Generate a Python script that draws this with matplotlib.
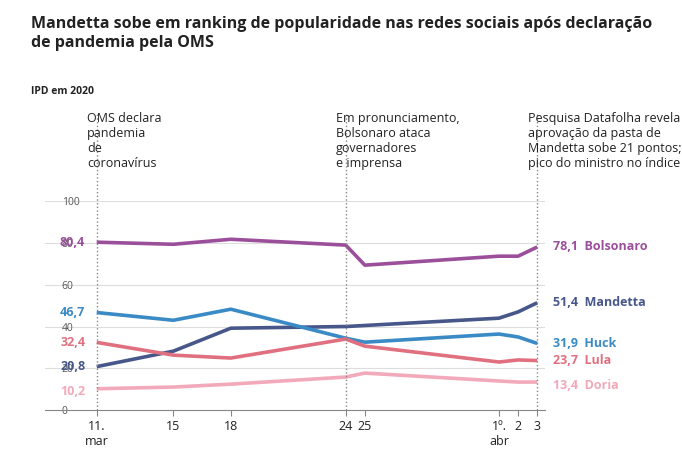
import matplotlib
matplotlib.use("Agg")
import matplotlib.pyplot as plt

plt.rcParams['font.family'] = ['Open Sans', 'DejaVu Sans']

days = [0, 4, 7, 13, 14, 21, 22, 23]
tick_labels = ["11.\nmar", "15", "18", "24", "25", "1º.\nabr", "2", "3"]
names = ["Bolsonaro", "Mandetta", "Huck", "Lula", "Doria"]
bolsonaro = [80.4, 79.4, 81.8, 79.0, 69.4, 73.7, 73.7, 78.1]
mandetta = [20.8, 28.2, 39.2, 40.0, 40.5, 44.0, 47.0, 51.4]
huck = [46.7, 43.0, 48.3, 34.4, 32.5, 36.4, 35.0, 31.9]
lula = [32.4, 26.3, 24.9, 34.0, 30.6, 23.0, 24.0, 23.7]
doria = [10.2, 11.0, 12.4, 15.8, 17.7, 13.9, 13.4, 13.4]
series = [bolsonaro, mandetta, huck, lula, doria]
colors = ["#9b4f9b", "#47578a", "#3a8ac6", "#e0707f", "#f2a9b9"]
label_offsets = [0, 0, 0, 0, -1.5]
events = [0, 13, 23]
event_texts = ["OMS declara\npandemia\nde\ncoronavírus",
               "Em pronunciamento,\nBolsonaro ataca\ngovernadores\ne imprensa",
               "Pesquisa Datafolha revela que\naprovação da pasta de\nMandetta sobe 21 pontos;\npico do ministro no índice"]

fig = plt.figure(figsize=(6.82, 4.67), dpi=100)
ax = fig.add_axes([0.066, 0.122, 0.733, 0.447])
for vals, c in zip(series, colors):
    ax.plot(days, vals, color=c, lw=2.6, solid_capstyle='butt')
for e, t in zip(events, event_texts):
    ax.axvline(e, ymin=0, ymax=1.43, color='#888888', ls=':', lw=1, clip_on=False)
    ax.text(e - 0.5, 143, t, fontsize=9, va='top', ha='left', color='#222222')
for vals, c, n, o in zip(series, colors, names, label_offsets):
    ax.text(-0.6, vals[0] + o, f"{vals[0]:.1f}".replace('.', ','), color=c, fontsize=9,
            fontweight='bold', ha='right', va='center')
    ax.text(23.8, vals[-1] + o, f"{vals[-1]:.1f}".replace('.', ',') + "  " + n, color=c,
            fontsize=9, fontweight='bold', ha='left', va='center')
ax.set_xlim(-2.7, 23.4)
ax.set_ylim(0, 100)
ax.set_yticks([0, 20, 40, 60, 80, 100])
ax.tick_params(axis='y', length=0, labelsize=7.5, labelcolor='#555555', pad=-12)
for lbl in ax.get_yticklabels():
    lbl.set_horizontalalignment('left')
ax.set_xticks(days)
ax.set_xticklabels(tick_labels, fontsize=9, color='#222222', va='top')
ax.tick_params(axis='x', length=4, color='#888888')
ax.grid(axis='y', color='#dddddd', lw=0.8)
for s in ['top', 'right', 'left']:
    ax.spines[s].set_visible(False)
ax.spines['bottom'].set_color('#888888')
ax.set_axisbelow(True)
fig.text(0.045, 0.965, "Mandetta sobe em ranking de popularidade nas redes sociais após declaração\nde pandemia pela OMS",
         fontsize=11.5, fontweight='bold', va='top', color='#222222')
fig.text(0.045, 0.815, "IPD em 2020", fontsize=7.5, fontweight='bold', va='top', color='#222222')
fig.savefig("out.png", dpi=100, facecolor='white')
